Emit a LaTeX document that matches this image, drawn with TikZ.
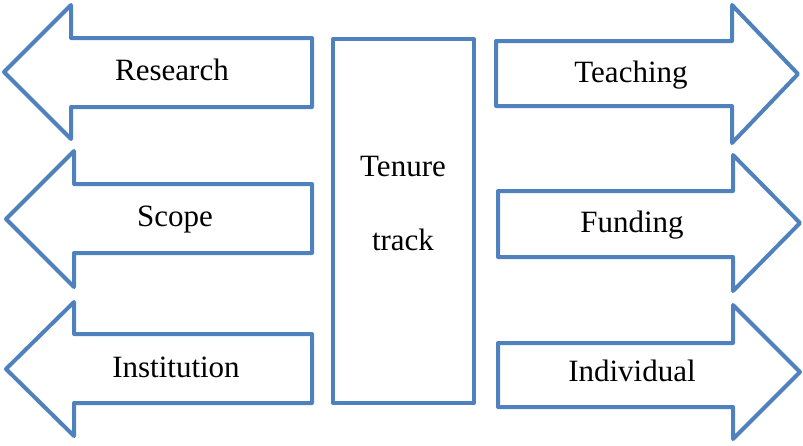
\documentclass[tikz,border=0pt]{standalone}
\usepackage{fontspec}
\setmainfont{Liberation Serif}
\definecolor{arrowblue}{RGB}{79,129,189}
\begin{document}
\begin{tikzpicture}[x=1pt,y=-1pt,
  shapeline/.style={draw=arrowblue,line width=4pt,line join=round,fill=white},
  lbl/.style={anchor=base,inner sep=0pt,font=\fontsize{31}{31}\selectfont}]
\useasboundingbox (0,0) rectangle (803,445);
% left arrows
\draw[shapeline] (312,38) -- (71,38) -- (71,5) -- (4,72) -- (71,139) -- (71,107) -- (312,107) -- cycle;
\draw[shapeline] (312,184) -- (74,184) -- (74,151) -- (6,219) -- (74,287) -- (74,253) -- (312,253) -- cycle;
\draw[shapeline] (312,334) -- (74,334) -- (74,302) -- (6,369) -- (74,436) -- (74,403) -- (312,403) -- cycle;
% right arrows
\draw[shapeline] (496,41) -- (732,41) -- (732,5) -- (798,74) -- (732,143) -- (732,106) -- (496,106) -- cycle;
\draw[shapeline] (498,191) -- (733,191) -- (733,155) -- (800,223) -- (733,291) -- (733,257) -- (498,257) -- cycle;
\draw[shapeline] (498,343) -- (733,343) -- (733,305) -- (800,372) -- (733,439) -- (733,407) -- (498,407) -- cycle;
% centre box
\draw[shapeline] (333,39) rectangle (474,403);
% labels
\node[lbl] (research) at (172,80) {Research};
\node[lbl] (scope) at (175,226) {Scope};
\node[lbl] (institution) at (176,377) {Institution};
\node[lbl] (teaching) at (631,82) {Teaching};
\node[lbl] (funding) at (632,232) {Funding};
\node[lbl] (individual) at (632,381) {Individual};
\node[lbl] (tenure) at (403,176) {Tenure};
\node[lbl] (track) at (403,250) {track};
\end{tikzpicture}
\end{document}
